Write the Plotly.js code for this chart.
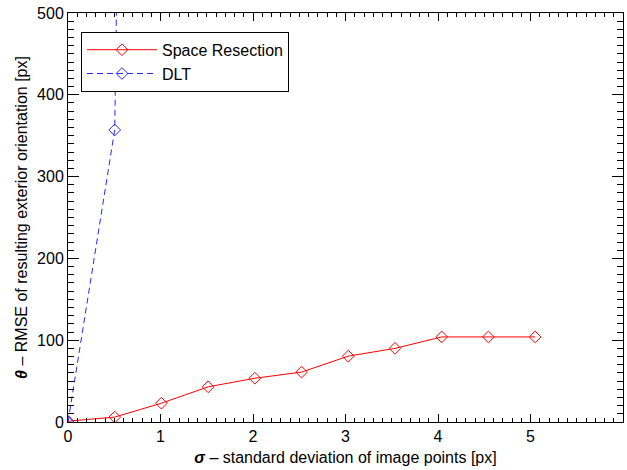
<!DOCTYPE html>
<html>
<head>
<meta charset="utf-8">
<script src="https://cdn.plot.ly/plotly-3.0.1.min.js"></script>
<style>
  html, body { margin: 0; padding: 0; background: #fff; }
  #chart { width: 627px; height: 470px; }
</style>
</head>
<body>
<div id="chart"></div>
<script>
// Noise level of the image points (sigma, px)
const sigmaResection = [0, 0.505, 1.01, 1.515, 2.02, 2.525, 3.03, 3.535, 4.04, 4.545, 5.05];
// RMSE of the resulting exterior orientation, space resection
const rmseResection = [1, 6, 23, 43, 53.5, 61, 80.5, 90, 104, 104, 104];

// DLT: same noise levels, diverges quickly
const sigmaDLT = [0, 0.505, 1.01];
const rmseDLT = [0, 357, 4300];

const traceNames = ['Space Resection', 'DLT'];

const FONT = 'Liberation Sans, Arial, Helvetica, sans-serif';

const traces = [
  {
    x: sigmaResection, y: rmseResection, name: traceNames[0],
    type: 'scatter', mode: 'lines+markers',
    line: { color: '#ff0000', width: 1 },
    marker: { symbol: 'diamond-open', size: 9, color: '#ff0000', line: { width: 1, color: '#ff0000' } }
  },
  {
    x: sigmaDLT, y: rmseDLT, name: traceNames[1],
    type: 'scatter', mode: 'lines+markers',
    line: { color: 'rgb(40,40,255)', width: 1, dash: '6px,4px' },
    marker: { symbol: 'diamond-open', size: 9, color: 'rgb(40,40,255)', line: { width: 1, color: 'rgb(40,40,255)' } }
  }
];

const layout = {
  width: 627, height: 470,
  margin: { l: 68, r: 4, t: 13, b: 48 },
  paper_bgcolor: '#fff', plot_bgcolor: '#fff',
  font: { family: FONT, size: 16, color: '#000' },
  showlegend: true,
  legend: {
    x: 0.0234, y: 0.954, xanchor: 'left', yanchor: 'top',
    bgcolor: '#fff', bordercolor: '#000', borderwidth: 1,
    font: { family: FONT, size: 16, color: '#000' },
    itemwidth: 70
  },
  xaxis: {
    range: [0, 6], dtick: 1,
    showgrid: false, zeroline: false,
    showline: true, linecolor: '#000', mirror: 'allticks',
    ticks: 'inside', ticklen: 8, tickcolor: '#000',
    minor: { dtick: 0.1, ticks: 'inside', ticklen: 4, tickcolor: '#000' },
    tickfont: { family: FONT, size: 16, color: '#000' },
    title: { text: '<b><i>σ</i></b> – standard deviation of image points [px]', font: { family: FONT, size: 16, color: '#000' }, standoff: 7 }
  },
  yaxis: {
    range: [0, 500], dtick: 100,
    showgrid: false, zeroline: false,
    showline: true, linecolor: '#000', mirror: 'allticks',
    ticks: 'inside', ticklen: 11, tickcolor: '#000',
    minor: { dtick: 10, ticks: 'inside', ticklen: 6, tickcolor: '#000' },
    tickfont: { family: FONT, size: 16, color: '#000' },
    title: { text: '<b><i>θ</i></b> – RMSE of resulting exterior orientation [px]', font: { family: FONT, size: 16, color: '#000' }, standoff: 5 }
  }
};

Plotly.newPlot('chart', traces, layout, { displayModeBar: false, staticPlot: true });
</script>
</body>
</html>
